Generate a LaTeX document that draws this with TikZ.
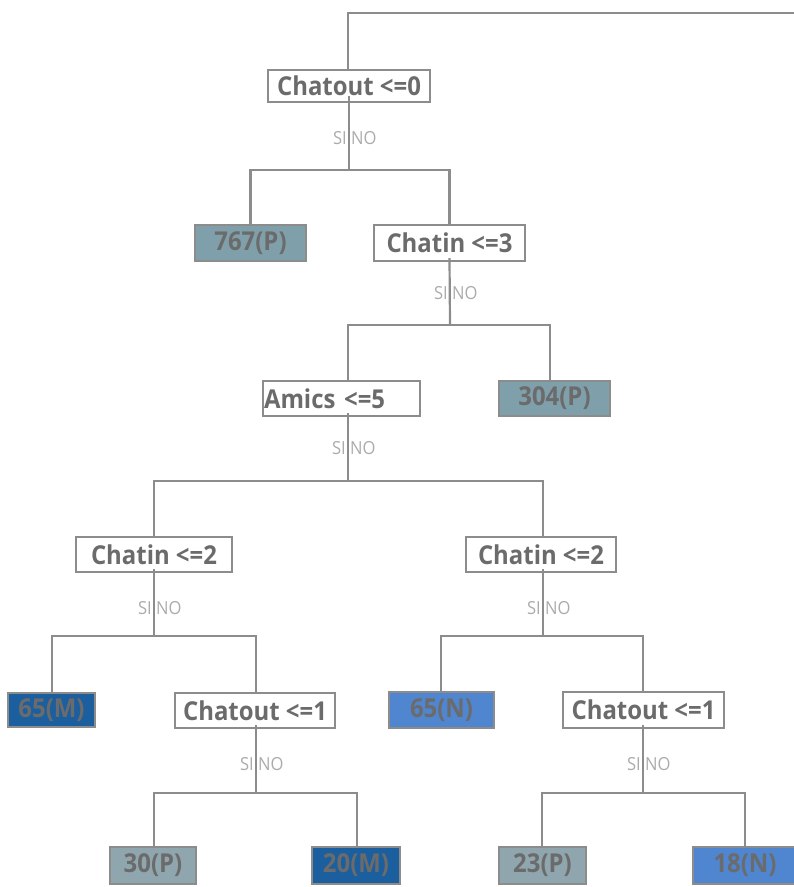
\documentclass[tikz,border=0pt]{standalone}
\usepackage{fontspec}
\setmainfont{Open Sans}[FakeStretch=0.92]
\definecolor{lineg}{HTML}{8C8C8C}
\definecolor{txtg}{HTML}{6B6B6B}
\definecolor{sig}{HTML}{ABABAB}
\definecolor{pfill}{HTML}{7F9FAA}
\definecolor{pfillb}{HTML}{8FA6AE}
\definecolor{mfill}{HTML}{1C5F9F}
\definecolor{nfill}{HTML}{4F86CF}
\begin{document}
\begin{tikzpicture}[x=1pt,y=-1pt,
  conn/.style={draw=lineg, line width=2.2pt},
  dec/.style={draw=lineg, line width=2.2pt, fill=white, inner sep=0pt, text=txtg,
    font=\fontsize{26}{28}\selectfont\bfseries},
  leaf/.style={draw=lineg, line width=2.2pt, inner sep=0pt, text=txtg,
    font=\fontsize{26}{28}\selectfont\bfseries},
  silab/.style={text=sig, font=\fontsize{18}{20}\selectfont, inner sep=0pt}]
\useasboundingbox (0,0) rectangle (794,887);
% nodes
\node[dec, minimum width=162, minimum height=32] (root) at (349,86) {Chatout <=0};
\node[leaf, fill=pfill, minimum width=111, minimum height=36] (l767) at (250.5,243) {767(P)};
\node[dec, minimum width=151, minimum height=36] (c3) at (449.5,243) {Chatin <=3};
\node[dec, minimum width=157, minimum height=35, text width=155, align=left] (am) at (341.5,398.5) {Amics <=5};
\node[leaf, fill=pfill, minimum width=111, minimum height=35] (l304) at (554.5,398.5) {304(P)};
\node[dec, minimum width=156, minimum height=35] (cl2) at (154,554.5) {Chatin <=2};
\node[dec, minimum width=150, minimum height=35] (cr2) at (541,554.5) {Chatin <=2};
\node[leaf, fill=mfill, minimum width=87, minimum height=34] (l65m) at (51.5,710) {65(M)};
\node[dec, minimum width=160, minimum height=35] (co1l) at (255,710.5) {Chatout <=1};
\node[leaf, fill=nfill, minimum width=105, minimum height=36] (l65n) at (441.5,710) {65(N)};
\node[dec, minimum width=161, minimum height=36] (co1r) at (643.5,710) {Chatout <=1};
\node[leaf, fill=pfillb, minimum width=86, minimum height=37] (l30) at (153,865.5) {30(P)};
\node[leaf, fill=mfill, minimum width=88, minimum height=37] (l20) at (356,865.5) {20(M)};
\node[leaf, fill=pfillb, minimum width=87, minimum height=37] (l23) at (542.5,865.5) {23(P)};
\node[leaf, fill=nfill, minimum width=104, minimum height=37] (l18) at (745,865.5) {18(N)};
% split coordinates
\coordinate (topend) at (794,13);
\coordinate (s1) at (349,170);
\coordinate (s2) at (450,325);
\coordinate (s3) at (348,481);
\coordinate (s4) at (154,636);
\coordinate (s5) at (543,636);
\coordinate (s6) at (256,793);
\coordinate (s7) at (643,793);
% connectors
\draw[conn] ([xshift=-1]root.north) |- (topend);
\draw[conn] ([yshift=7]root.south) -- (s1);
\draw[conn] (l767.north) |- (s1) -| (c3.north);
\draw[conn] ([yshift=4]c3.south) -- (s2);
\draw[conn] ([xshift=6.5]am.north) |- (s2) -| ([xshift=-4.5]l304.north);
\draw[conn] ([xshift=6.5,yshift=4]am.south) -- (s3);
\draw[conn] (cl2.north) |- (s3) -| ([xshift=2]cr2.north);
\draw[conn] ([yshift=4]cl2.south) -- (s4);
\draw[conn] ([xshift=0.5]l65m.north) |- (s4) -| ([xshift=1]co1l.north);
\draw[conn] ([xshift=2,yshift=4]cr2.south) -- (s5);
\draw[conn] ([xshift=-0.5]l65n.north) |- (s5) -| ([xshift=-0.5]co1r.north);
\draw[conn] ([xshift=1,yshift=4]co1l.south) -- (s6);
\draw[conn] ([xshift=1]l30.north) |- (s6) -| ([xshift=1]l20.north);
\draw[conn] ([xshift=-0.5,yshift=4]co1r.south) -- (s7);
\draw[conn] ([xshift=-0.5]l23.north) |- (s7) -| (l18.north);
% SI / NO labels
\foreach \x/\y/\n in {349/138/a, 450/293/b, 348/448/c, 154/608/d, 543/608/e, 256/764/f, 643/764/g}{
  \node[silab, anchor=east] (si\n) at (\x-2,\y) {SI};
  \node[silab, anchor=west] (no\n) at (\x+2,\y) {NO};
}
\end{tikzpicture}
\end{document}
